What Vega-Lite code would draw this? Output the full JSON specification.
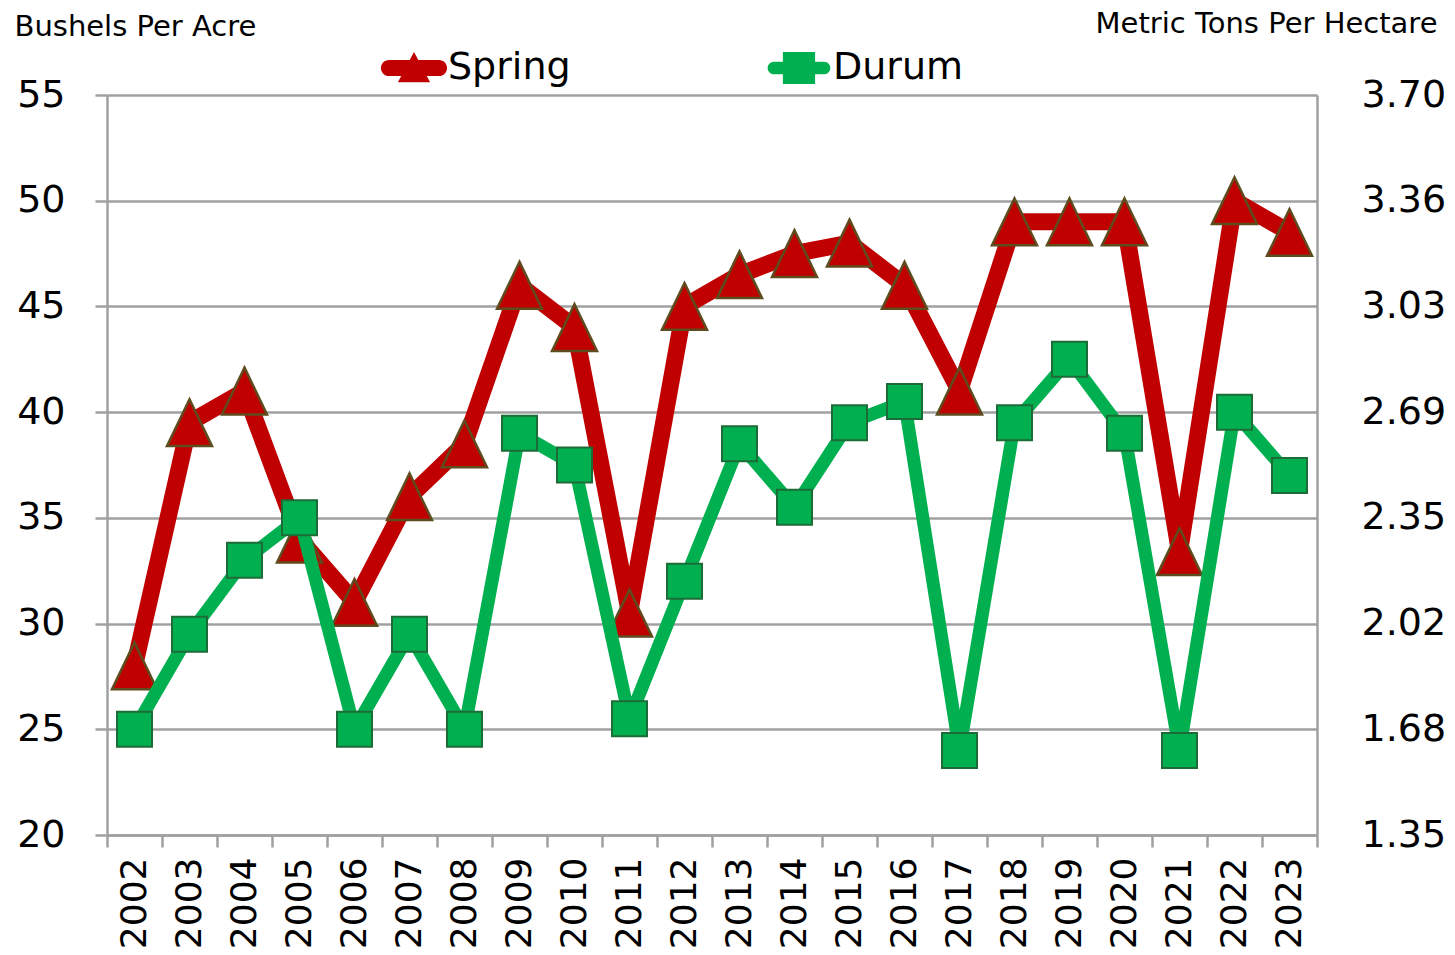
{
  "$schema": "https://vega.github.io/schema/vega-lite/v6.json",
  "width": 1210,
  "height": 740,
  "autosize": {"type": "none"},
  "padding": {"left": 107, "top": 95, "right": 138, "bottom": 120},
  "background": "white",
  "config": {
    "font": "DejaVu Sans",
    "view": {"stroke": null},
    "axis": {"labelFont": "DejaVu Sans", "titleFont": "DejaVu Sans", "labelColor": "#000000", "titleColor": "#000000", "titleFontWeight": "normal"}
  },
  "data": {"values": [
    {"year": "2002", "series": "Spring", "value": 28.0},
    {"year": "2003", "series": "Spring", "value": 39.5},
    {"year": "2004", "series": "Spring", "value": 41.0},
    {"year": "2005", "series": "Spring", "value": 34.0},
    {"year": "2006", "series": "Spring", "value": 31.0},
    {"year": "2007", "series": "Spring", "value": 36.0},
    {"year": "2008", "series": "Spring", "value": 38.5},
    {"year": "2009", "series": "Spring", "value": 46.0},
    {"year": "2010", "series": "Spring", "value": 44.0},
    {"year": "2011", "series": "Spring", "value": 30.5},
    {"year": "2012", "series": "Spring", "value": 45.0},
    {"year": "2013", "series": "Spring", "value": 46.5},
    {"year": "2014", "series": "Spring", "value": 47.5},
    {"year": "2015", "series": "Spring", "value": 48.0},
    {"year": "2016", "series": "Spring", "value": 46.0},
    {"year": "2017", "series": "Spring", "value": 41.0},
    {"year": "2018", "series": "Spring", "value": 49.0},
    {"year": "2019", "series": "Spring", "value": 49.0},
    {"year": "2020", "series": "Spring", "value": 49.0},
    {"year": "2021", "series": "Spring", "value": 33.4},
    {"year": "2022", "series": "Spring", "value": 50.0},
    {"year": "2023", "series": "Spring", "value": 48.5},
    {"year": "2002", "series": "Durum", "value": 25.0},
    {"year": "2003", "series": "Durum", "value": 29.5},
    {"year": "2004", "series": "Durum", "value": 33.0},
    {"year": "2005", "series": "Durum", "value": 35.0},
    {"year": "2006", "series": "Durum", "value": 25.0},
    {"year": "2007", "series": "Durum", "value": 29.5},
    {"year": "2008", "series": "Durum", "value": 25.0},
    {"year": "2009", "series": "Durum", "value": 39.0},
    {"year": "2010", "series": "Durum", "value": 37.5},
    {"year": "2011", "series": "Durum", "value": 25.5},
    {"year": "2012", "series": "Durum", "value": 32.0},
    {"year": "2013", "series": "Durum", "value": 38.5},
    {"year": "2014", "series": "Durum", "value": 35.5},
    {"year": "2015", "series": "Durum", "value": 39.5},
    {"year": "2016", "series": "Durum", "value": 40.5},
    {"year": "2017", "series": "Durum", "value": 24.0},
    {"year": "2018", "series": "Durum", "value": 39.5},
    {"year": "2019", "series": "Durum", "value": 42.5},
    {"year": "2020", "series": "Durum", "value": 39.0},
    {"year": "2021", "series": "Durum", "value": 24.0},
    {"year": "2022", "series": "Durum", "value": 40.0},
    {"year": "2023", "series": "Durum", "value": 37.0}
  ]},
  "encoding": {
    "x": {
      "field": "year", "type": "ordinal",
      "scale": {"paddingInner": 0, "paddingOuter": 0},
      "axis": {
        "title": null, "labelAngle": -90, "labelFontSize": 36, "labelPadding": 10,
        "tickBand": "extent", "tickSize": 12, "tickColor": "#A0A0A0", "tickWidth": 2.5,
        "domainColor": "#A0A0A0", "domainWidth": 2.5, "grid": false
      }
    }
  },
  "layer": [
    {
      "transform": [{"filter": "datum.series == 'Spring'"}],
      "mark": {"type": "line", "strokeWidth": 17, "strokeJoin": "round", "strokeCap": "round"},
      "encoding": {
        "y": {
          "field": "value", "type": "quantitative",
          "scale": {"domain": [20, 55], "nice": false, "zero": false},
          "axis": {
            "title": "Bushels Per Acre", "titleAngle": 0, "titleAlign": "left", "titleBaseline": "alphabetic",
            "titleX": -93, "titleY": -60, "titleFontSize": 29,
            "values": [20, 25, 30, 35, 40, 45, 50, 55], "labelFontSize": 38, "labelPadding": 30,
            "tickSize": 12, "tickColor": "#A0A0A0", "tickWidth": 2.5,
            "domainColor": "#A0A0A0", "domainWidth": 2.5,
            "grid": true, "gridColor": "#A0A0A0", "gridWidth": 2.5
          }
        },
        "color": {
          "field": "series", "type": "nominal",
          "scale": {"domain": ["Spring", "Durum"], "range": ["#C00000", "#00B050"]},
          "legend": {
            "title": null, "orient": "none", "direction": "horizontal",
            "legendX": 288, "legendY": -46, "padding": 0,
            "symbolSize": 1225, "labelOffset": 15, "columnPadding": 196,
            "labelFontSize": 38, "labelFont": "DejaVu Sans", "labelColor": "#000000", "labelLimit": 300,
            "encode": {
              "symbols": {
                "update": {
                  "shape": {"signal": "datum.value == 'Spring' ? 'M-1.43,-0.46L1.43,-0.46A0.46,0.46 0 0 1 1.43,0.46L-1.43,0.46A0.46,0.46 0 0 1 -1.43,-0.46ZM0,-0.92L0.92,0.82L-0.92,0.82Z' : 'M-1.43,-0.36L1.43,-0.36A0.36,0.36 0 0 1 1.43,0.36L-1.43,0.36A0.36,0.36 0 0 1 -1.43,-0.36ZM-0.92,-0.92L0.92,-0.92L0.92,0.92L-0.92,0.92Z'"},
                  "fill": {"signal": "datum.value == 'Spring' ? '#C00000' : '#00B050'"},
                  "stroke": {"value": "transparent"},
                  "strokeWidth": {"value": 0},
                  "opacity": {"value": 1}
                }
              }
            }
          }
        }
      }
    },
    {
      "transform": [{"filter": "datum.series == 'Spring'"}],
      "mark": {"type": "point", "filled": true, "opacity": 1, "size": 2025, "shape": "M0,-1.04L1,1.04L-1,1.04Z", "fill": "#C00000", "stroke": "#5E4B1E", "strokeWidth": 2.5},
      "encoding": {
        "y": {
          "field": "value", "type": "quantitative",
          "scale": {"domain": [20, 55], "nice": false, "zero": false},
          "axis": null
        }
      }
    },
    {
      "transform": [{"filter": "datum.series == 'Durum'"}],
      "mark": {"type": "line", "strokeWidth": 13, "strokeJoin": "round", "strokeCap": "round"},
      "encoding": {
        "y": {
          "field": "value", "type": "quantitative",
          "scale": {"domain": [20, 55], "nice": false, "zero": false},
          "axis": null
        },
        "color": {"field": "series", "type": "nominal"}
      }
    },
    {
      "transform": [{"filter": "datum.series == 'Durum'"}],
      "mark": {"type": "point", "filled": true, "opacity": 1, "size": 1225, "shape": "square", "fill": "#00B050", "stroke": "#1D6B36", "strokeWidth": 2},
      "encoding": {
        "y": {
          "field": "value", "type": "quantitative",
          "scale": {"domain": [20, 55], "nice": false, "zero": false},
          "axis": {
            "orient": "right",
            "title": "Metric Tons Per Hectare", "titleAngle": 0, "titleAlign": "right", "titleBaseline": "alphabetic",
            "titleX": 120, "titleY": -63, "titleFontSize": 29,
            "values": [20, 25, 30, 35, 40, 45, 50, 55],
            "labelExpr": "format(datum.value * 0.067251, '.2f')",
            "labelFontSize": 38, "labelPadding": 44, "labelAlign": "left",
            "ticks": false, "tickSize": 0,
            "domainColor": "#A0A0A0", "domainWidth": 2.5, "grid": false
          }
        }
      }
    }
  ],
  "resolve": {"scale": {"y": "independent"}}
}
